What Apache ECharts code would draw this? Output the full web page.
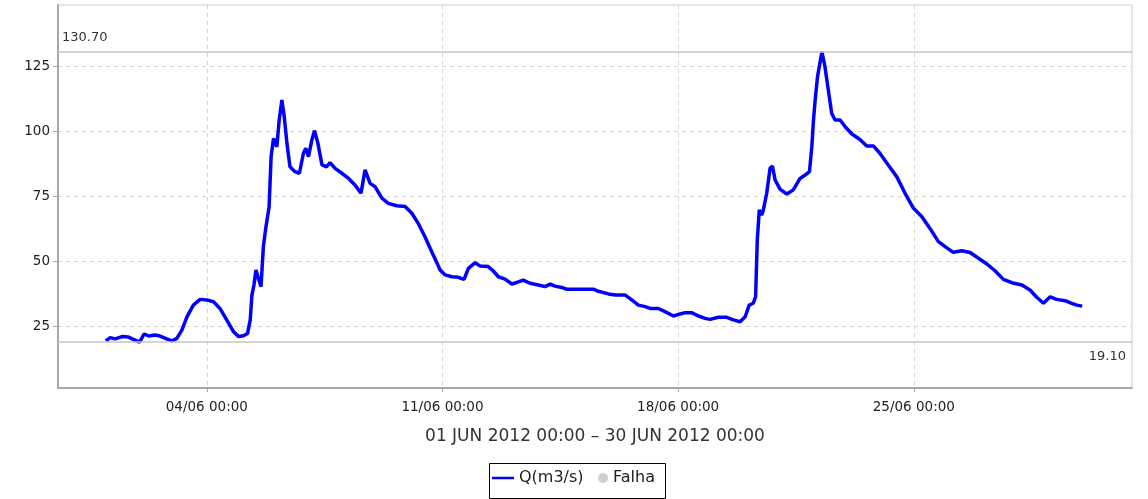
<!DOCTYPE html>
<html>
<head>
<meta charset="utf-8">
<title>Q(m3/s)</title>
<script src="https://cdn.jsdelivr.net/npm/echarts@6.0.0/dist/echarts.min.js"></script>
<style>
    html, body { margin: 0; padding: 0; background: #fff; }
    #chart { width: 1148px; height: 499px; }
</style>
</head>
<body>
<div id="chart"></div>
<script>
// dias desde 01/06/2012 00:00
var dias = [0.00, 0.13, 0.28, 0.48, 0.67, 0.82, 1.00, 1.14, 1.27, 1.46, 1.61, 1.81, 1.96, 2.11, 2.26, 2.41, 2.60, 2.80, 3.00, 3.20,
    3.39, 3.59, 3.79, 3.94, 4.09, 4.21, 4.29, 4.34, 4.40, 4.46, 4.53, 4.61, 4.68, 4.75, 4.80, 4.85, 4.91, 4.98, 5.08, 5.15,
    5.23, 5.30, 5.38, 5.47, 5.62, 5.75, 5.87, 5.94, 6.02, 6.12, 6.20, 6.30, 6.42, 6.56, 6.66, 6.81, 7.01, 7.21, 7.40, 7.58,
    7.70, 7.75, 7.85, 8.00, 8.20, 8.39, 8.64, 8.89, 9.09, 9.28, 9.48, 9.68, 9.80, 9.93, 10.08, 10.28, 10.47, 10.64, 10.77, 10.97,
    11.12, 11.36, 11.51, 11.66, 11.86, 12.06, 12.21, 12.40, 12.60, 12.85, 13.05, 13.20, 13.34, 13.54, 13.69, 13.99, 14.29, 14.48, 14.63, 14.93,
    15.13, 15.42, 15.62, 15.82, 16.02, 16.17, 16.41, 16.61, 16.86, 17.06, 17.21, 17.40, 17.60, 17.80, 17.95, 18.19, 18.44, 18.64, 18.84, 18.99,
    19.11, 19.23, 19.30, 19.35, 19.41, 19.48, 19.53, 19.63, 19.73, 19.80, 19.88, 20.03, 20.23, 20.42, 20.62, 20.77, 20.90, 20.97, 21.02, 21.07,
    21.14, 21.27, 21.36, 21.46, 21.56, 21.66, 21.81, 21.96, 22.16, 22.40, 22.60, 22.80, 22.99, 23.24, 23.49, 23.74, 23.99, 24.24, 24.48, 24.73,
    24.93, 25.17, 25.42, 25.67, 25.92, 26.17, 26.41, 26.66, 26.91, 27.21, 27.45, 27.65, 27.85, 28.05, 28.24, 28.49, 28.69, 28.84, 29.00];

var vazao = [19.5, 20.8, 20.3, 21.2, 21.0, 20.1, 19.1, 22.2, 21.4, 21.8, 21.4, 20.3, 19.5, 20.5, 23.7, 28.8, 33.3, 35.5, 35.3, 34.6,
    32.0, 27.6, 23.1, 21.2, 21.5, 22.4, 27.6, 37.2, 41.0, 46.8, 43.6, 40.4, 55.8, 62.8, 62.2, 71.0, 90.4, 97.4, 94.2, 104.5,
    112.2, 105.8, 95.5, 86.5, 84.6, 84.0, 91.7, 93.6, 90.4, 96.8, 100.4, 95.5, 87.2, 86.5, 88.1, 85.9, 84.0, 82.0, 79.5, 76.3,
    85.3, 85.9, 80.1, 78.8, 74.4, 72.4, 71.5, 71.2, 68.6, 64.7, 59.6, 53.8, 50.5, 46.8, 44.9, 44.2, 44.0, 43.2, 47.4, 49.6,
    48.3, 48.1, 46.4, 44.2, 43.3, 41.4, 42.0, 42.9, 41.7, 41.0, 40.4, 41.4, 40.6, 40.1, 39.4, 39.4, 39.4, 39.4, 38.6, 37.6,
    37.2, 37.2, 35.3, 33.3, 32.7, 32.0, 32.0, 30.8, 29.1, 29.9, 30.4, 30.4, 29.1, 28.2, 27.8, 28.6, 28.6, 27.6, 26.9, 28.8,
    33.3, 34.0, 36.5, 58.3, 69.9, 67.9, 69.9, 76.3, 85.9, 86.8, 81.4, 77.8, 76.0, 77.6, 82.0, 83.3, 84.6, 94.2, 104.5, 112.2,
    121.2, 130.7, 125.0, 116.0, 107.1, 104.5, 104.5, 101.9, 99.1, 97.0, 94.5, 94.5, 91.7, 87.2, 82.7, 76.3, 70.5, 67.3, 62.8, 57.7,
    55.8, 53.6, 54.2, 53.5, 51.3, 49.1, 46.5, 43.2, 41.9, 41.0, 39.1, 36.3, 34.0, 36.5, 35.5, 35.0, 34.0, 33.3, 32.9];

var ticksX = [3, 10, 17, 24];           // 04/06, 11/06, 18/06, 25/06
var ticksY = [25, 50, 75, 100, 125];
var maximo = 130.70;
var minimo = 19.10;
var periodo = '01 JUN 2012 00:00 \u2013 30 JUN 2012 00:00';

var pontos = dias.map(function(d, i) { return [d, vazao[i]]; });

function fmtDia(v) {
    var d = Math.round(v) + 1;
    return (d < 10 ? '0' + d : d) + '/06 00:00';
}

var fonte = 'DejaVu Sans';
var chart = echarts.init(document.getElementById('chart'));

chart.setOption({
    animation: false,
    backgroundColor: '#fff',
    grid: {
        left: 58, top: 5, right: 16, bottom: 111,
        show: true, borderColor: '#cfcfcf', borderWidth: 1
    },
    xAxis: {
        type: 'value',
        min: -1.42,
        max: 30.48,
        name: periodo,
        nameLocation: 'middle',
        nameGap: 40,
        nameTextStyle: { fontFamily: fonte, fontSize: 17, color: '#333' },
        axisLine: { onZero: false, lineStyle: { color: '#a8a8a8', width: 2 } },
        axisTick: { customValues: ticksX, length: 4, lineStyle: { color: '#a8a8a8' } },
        axisLabel: {
            customValues: ticksX, formatter: fmtDia, margin: 12,
            fontFamily: fonte, fontSize: 13.5, color: '#222'
        },
        splitLine: { show: true, lineStyle: { color: '#d6d6d6', type: [4, 4] } }
    },
    yAxis: {
        type: 'value',
        min: 1.42,
        max: 148.7,
        axisLine: { show: true, onZero: false, lineStyle: { color: '#a8a8a8', width: 2 } },
        axisTick: { show: true, customValues: ticksY, length: 5, lineStyle: { color: '#a8a8a8' } },
        axisLabel: {
            customValues: ticksY, margin: 8,
            fontFamily: fonte, fontSize: 13.5, color: '#222'
        },
        splitLine: { show: true, lineStyle: { color: '#d6d6d6', type: [4, 4] } }
    },
    legend: [{
        data: [{ name: 'Q(m3/s)', icon: 'rect' }],
        left: 492, top: 470,
        padding: 0,
        itemWidth: 22, itemHeight: 2.5,
        textStyle: { fontFamily: fonte, fontSize: 16, color: '#222' }
    }, {
        data: ['Falha'],
        left: 598, top: 470,
        padding: 0,
        itemWidth: 10, itemHeight: 10,
        textStyle: { fontFamily: fonte, fontSize: 16, color: '#222' }
    }],
    graphic: [{
        type: 'rect',
        left: 487, top: 461,
        shape: { width: 176, height: 35 },
        style: { fill: 'none', stroke: '#000', lineWidth: 1 }
    }],
    series: [{
        name: 'Q(m3/s)',
        type: 'line',
        data: pontos,
        symbol: 'none',
        color: '#0000ff',
        lineStyle: { width: 3.5, color: '#0000ff' },
        markLine: {
            silent: true,
            symbol: 'none',
            lineStyle: { color: '#c6c6c6', type: 'solid', width: 1.5 },
            label: { fontFamily: fonte, fontSize: 13, color: '#333' },
            data: [{
                yAxis: maximo,
                label: { position: 'insideStartTop', distance: [4, 8], formatter: maximo.toFixed(2) }
            }, {
                yAxis: minimo,
                label: { position: 'insideEndBottom', distance: [6, 8], formatter: minimo.toFixed(2) }
            }]
        }
    }, {
        name: 'Falha',
        type: 'scatter',
        data: [],
        color: '#c4c4c4'
    }]
});
</script>
</body>
</html>
